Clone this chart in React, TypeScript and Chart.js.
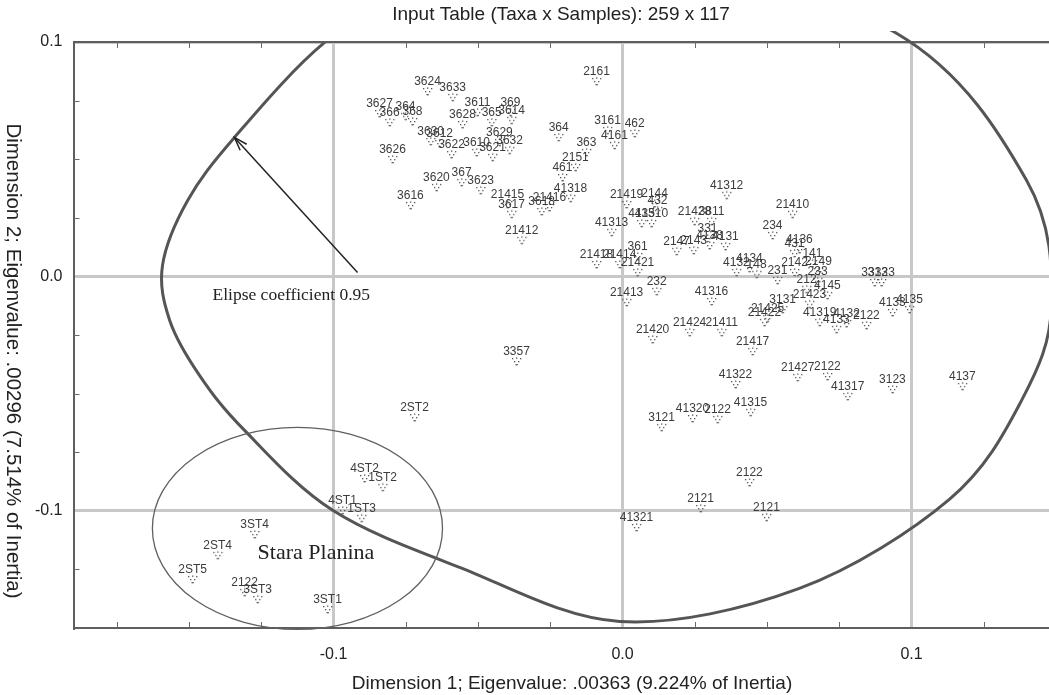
import React, { useEffect, useRef } from 'react';
import { Chart, registerables } from 'chart.js';

Chart.register(...registerables);

// ---------- data ----------
const sampleLabels: string[] = [
  '2161', '3624', '3633', '3627', '364', '366', '368', '3611', '369', '3628',
  '365', '3614', '3630', '3612', '3629', '3610', '3632', '3621', '3622', '3626',
  '364', '363', '3161', '462', '4161', '2151', '461', '3620', '367', '3623',
  '3616', '21415', '3617', '3618', '21416', '41318', '21412', '21419', '2144', '432',
  '41310', '4135', '41313', '21418', '21414', '361', '21421', '232', '21413', '41312',
  '21410', '21428', '3811', '331', '2147', '2143', '4138', '4131', '234', '4136',
  '431', '141', '2142', '2149', '233', '231', '4134', '4132', '148', '212',
  '4145', '21423', '3131', '21422', '21425', '41319', '4132', '4133', '2122', '3313',
  '3323', '4133', '4135', '3123', '4137', '41317', '21427', '2122', '41322', '41315',
  '41320', '2122', '3121', '2122', '2121', '2121', '41321', '21420', '21424', '21411',
  '21417', '41316', '3357', '2ST2', '4ST2', '1ST2', '4ST1', '1ST3', '3ST4', '2ST4',
  '2ST5', '2122', '3ST3', '3ST1',
];

const dim1: number[] = [
  -0.0090, -0.0675, -0.0588, -0.0841, -0.0751, -0.0806, -0.0727, -0.0502, -0.0388, -0.0554,
  -0.0453, -0.0384, -0.0664, -0.0633, -0.0426, -0.0505, -0.0391, -0.0450, -0.0592, -0.0796,
  -0.0221, -0.0125, -0.0052, 0.0042, -0.0028, -0.0163, -0.0208, -0.0644, -0.0557, -0.0491,
  -0.0734, -0.0398, -0.0384, -0.0280, -0.0253, -0.0180, -0.0349, 0.0014, 0.0111, 0.0121,
  0.0100, 0.0066, -0.0038, -0.0090, -0.0010, 0.0052, 0.0052, 0.0118, 0.0014, 0.0360,
  0.0588, 0.0249, 0.0308, 0.0294, 0.0187, 0.0246, 0.0301, 0.0356, 0.0519, 0.0612,
  0.0595, 0.0657, 0.0595, 0.0678, 0.0675, 0.0536, 0.0439, 0.0394, 0.0464, 0.0637,
  0.0709, 0.0647, 0.0554, 0.0491, 0.0502, 0.0682, 0.0775, 0.0740, 0.0844, 0.0872,
  0.0896, 0.0934, 0.0993, 0.0934, 0.1176, 0.0779, 0.0606, 0.0709, 0.0391, 0.0443,
  0.0242, 0.0329, 0.0135, 0.0439, 0.0270, 0.0498, 0.0048, 0.0104, 0.0232, 0.0343,
  0.0450, 0.0308, -0.0367, -0.0720, -0.0893, -0.0830, -0.0969, -0.0903, -0.1273, -0.1401,
  -0.1488, -0.1308, -0.1263, -0.1021,
];

const dim2: number[] = [
  0.0832, 0.0789, 0.0764, 0.0695, 0.0683, 0.0657, 0.0661, 0.0700, 0.0700, 0.0648,
  0.0657, 0.0666, 0.0576, 0.0567, 0.0572, 0.0529, 0.0538, 0.0508, 0.0520, 0.0499,
  0.0593, 0.0529, 0.0623, 0.0610, 0.0559, 0.0465, 0.0422, 0.0380, 0.0401, 0.0367,
  0.0303, 0.0307, 0.0265, 0.0277, 0.0294, 0.0333, 0.0154, 0.0307, 0.0311, 0.0282,
  0.0226, 0.0226, 0.0188, 0.0051, 0.0051, 0.0085, 0.0017, -0.0064, -0.0111, 0.0346,
  0.0265, 0.0235, 0.0235, 0.0162, 0.0107, 0.0111, 0.0132, 0.0128, 0.0175, 0.0115,
  0.0098, 0.0055, 0.0017, 0.0021, -0.0021, -0.0017, 0.0034, 0.0017, 0.0009, -0.0055,
  -0.0081, -0.0119, -0.0141, -0.0196, -0.0179, -0.0196, -0.0201, -0.0226, -0.0209, -0.0026,
  -0.0026, -0.0154, -0.0141, -0.0482, -0.0469, -0.0512, -0.0431, -0.0427, -0.0461, -0.0580,
  -0.0606, -0.0610, -0.0644, -0.0879, -0.0990, -0.1028, -0.1071, -0.0269, -0.0239, -0.0239,
  -0.0320, -0.0107, -0.0363, -0.0602, -0.0862, -0.0900, -0.0998, -0.1032, -0.1101, -0.1190,
  -0.1293, -0.1348, -0.1378, -0.1421,
];

const xMajorTicks: number[] = [-0.1, 0.0, 0.1];
const yMajorTicks: number[] = [-0.1, 0.0, 0.1];
const minorStep = 0.025;
const xLimits: number[] = [-0.19, 0.15];
const yLimits: number[] = [-0.15, 0.1];

const chartTitle = 'Input Table (Taxa x Samples): 259 x 117';
const xTitle = 'Dimension 1; Eigenvalue: .00363 (9.224% of Inertia)';
const yTitle = 'Dimension 2; Eigenvalue: .00296 (7.514% of Inertia)';

// annotation shapes, in data units
const confidenceOutlineX: number[] = [
  -0.0010, 0.0948, 0.1398, 0.1484, 0.1381, 0.1131, 0.0612, -0.0010, -0.0564,
  -0.1003, -0.1308, -0.1464, -0.1567, -0.1592, -0.1505, -0.1343, -0.1031, -0.0668,
];
const confidenceOutlineY: number[] = [
  0.1433, 0.1037, 0.0410, -0.0124, -0.0529, -0.0951, -0.1331, -0.1472, -0.1241,
  -0.0998, -0.0657, -0.0422, -0.0188, 0.0047, 0.0324, 0.0593, 0.0998, 0.1284,
];
const staraEllipse = { cx: -0.1125, cy: -0.1075, rx: 0.0502, ry: 0.0431 };
const arrowFrom = { x: -0.0917, y: 0.0017 };
const arrowTo = { x: -0.1343, y: 0.0593 };
const ellipseNote = { text: 'Elipse coefficient 0.95', x: -0.1419, y: -0.0100 };
const staraNote = { text: 'Stara Planina', x: -0.1263, y: -0.1207 };

const SANS = "'Liberation Sans', Arial, sans-serif";
const SERIF = "'Liberation Serif', 'Times New Roman', serif";
const FRAME = '#5e5e5e';

function makeMarker(): HTMLCanvasElement {
  const c = document.createElement('canvas');
  c.width = 13;
  c.height = 11;
  const g = c.getContext('2d')!;
  g.fillStyle = '#555555';
  const dots = [
    [2, 2], [6, 1.5], [10, 2],
    [4, 5], [8, 5],
    [5.5, 8], [6.5, 8],
  ];
  dots.forEach(([x, y]) => g.fillRect(x, y, 1.3, 1.3));
  return c;
}

const overlayPlugin = {
  id: 'overlay',
  afterDatasetsDraw(chart: any) {
    const { ctx, chartArea, scales } = chart;
    const { left, right, top, bottom } = chartArea;
    const xs = scales.x;
    const ys = scales.y;
    const px = (v: number) => xs.getPixelForValue(v);
    const py = (v: number) => ys.getPixelForValue(v);

    ctx.save();
    // frame top/right
    ctx.strokeStyle = FRAME;
    ctx.lineWidth = 2;
    ctx.beginPath();
    ctx.moveTo(left, top);
    ctx.lineTo(right, top);
    ctx.lineTo(right, bottom);
    ctx.stroke();

    // minor inward ticks
    ctx.lineWidth = 1;
    ctx.strokeStyle = '#6a6a6a';
    const isMajor = (v: number) => Math.abs(v * 10 - Math.round(v * 10)) < 1e-6;
    for (let v = Math.ceil(xLimits[0] / minorStep) * minorStep; v <= xLimits[1] + 1e-9; v += minorStep) {
      if (isMajor(v)) continue;
      const X = Math.round(px(v)) + 0.5;
      ctx.beginPath();
      ctx.moveTo(X, bottom);
      ctx.lineTo(X, bottom - 6);
      ctx.moveTo(X, top);
      ctx.lineTo(X, top + 6);
      ctx.stroke();
    }
    for (let v = Math.ceil(yLimits[0] / minorStep) * minorStep; v <= yLimits[1] + 1e-9; v += minorStep) {
      if (isMajor(v)) continue;
      const Y = Math.round(py(v)) + 0.5;
      ctx.beginPath();
      ctx.moveTo(left, Y);
      ctx.lineTo(left + 6, Y);
      ctx.moveTo(right, Y);
      ctx.lineTo(right - 6, Y);
      ctx.stroke();
    }

    // point labels
    const meta = chart.getDatasetMeta(0);
    ctx.font = `12px ${SANS}`;
    ctx.fillStyle = '#3c3c3c';
    ctx.textAlign = 'center';
    ctx.textBaseline = 'middle';
    meta.data.forEach((pt: any, i: number) => {
      ctx.fillText(sampleLabels[i], pt.x, pt.y - 10);
    });

    // large confidence outline (closed smooth curve)
    const P = confidenceOutlineX.map((v, i) => [px(v), py(confidenceOutlineY[i])]);
    ctx.save();
    ctx.beginPath();
    const zx = px(0);
    ctx.moveTo(left, top);
    ctx.lineTo(zx, top);
    ctx.lineTo(zx, top - 11);
    ctx.lineTo(chart.width, top - 11);
    ctx.lineTo(chart.width, bottom);
    ctx.lineTo(left, bottom);
    ctx.closePath();
    ctx.clip();
    ctx.beginPath();
    const n = P.length;
    ctx.moveTo(P[0][0], P[0][1]);
    for (let i = 0; i < n; i++) {
      const p0 = P[(i - 1 + n) % n];
      const p1 = P[i];
      const p2 = P[(i + 1) % n];
      const p3 = P[(i + 2) % n];
      ctx.bezierCurveTo(
        p1[0] + (p2[0] - p0[0]) / 6, p1[1] + (p2[1] - p0[1]) / 6,
        p2[0] - (p3[0] - p1[0]) / 6, p2[1] - (p3[1] - p1[1]) / 6,
        p2[0], p2[1],
      );
    }
    ctx.closePath();
    ctx.strokeStyle = '#555555';
    ctx.lineWidth = 3;
    ctx.stroke();
    ctx.restore();

    // Stara Planina ellipse
    ctx.beginPath();
    const ecx = px(staraEllipse.cx);
    const ecy = py(staraEllipse.cy);
    const erx = px(staraEllipse.cx + staraEllipse.rx) - ecx;
    const ery = ecy - py(staraEllipse.cy + staraEllipse.ry);
    ctx.ellipse(ecx, ecy, erx, ery, 0, 0, Math.PI * 2);
    ctx.strokeStyle = '#606060';
    ctx.lineWidth = 1.3;
    ctx.stroke();

    // arrow
    const ax0 = px(arrowFrom.x), ay0 = py(arrowFrom.y);
    const ax1 = px(arrowTo.x), ay1 = py(arrowTo.y);
    ctx.strokeStyle = '#222222';
    ctx.lineWidth = 1.5;
    ctx.beginPath();
    ctx.moveTo(ax0, ay0);
    ctx.lineTo(ax1, ay1);
    ctx.stroke();
    const ang = Math.atan2(ay1 - ay0, ax1 - ax0);
    const hl = 14, hw = 0.32;
    ctx.beginPath();
    ctx.moveTo(ax1 - hl * Math.cos(ang - hw), ay1 - hl * Math.sin(ang - hw));
    ctx.lineTo(ax1, ay1);
    ctx.lineTo(ax1 - hl * Math.cos(ang + hw), ay1 - hl * Math.sin(ang + hw));
    ctx.stroke();

    // annotation texts
    ctx.fillStyle = '#222222';
    ctx.textAlign = 'left';
    ctx.textBaseline = 'alphabetic';
    ctx.font = `17.5px ${SERIF}`;
    ctx.fillText(ellipseNote.text, px(ellipseNote.x), py(ellipseNote.y));
    ctx.font = `22px ${SERIF}`;
    ctx.fillText(staraNote.text, px(staraNote.x), py(staraNote.y));
    ctx.restore();
  },
  afterDraw(chart: any) {
    const { ctx } = chart;
    ctx.save();
    ctx.fillStyle = '#222222';
    ctx.textAlign = 'center';
    ctx.textBaseline = 'middle';
    ctx.font = `19px ${SANS}`;
    ctx.fillText(chartTitle, 561, 15);
    ctx.fillText(xTitle, 572, 684);
    ctx.font = `20.5px ${SANS}`;
    ctx.translate(13, 361);
    ctx.rotate(Math.PI / 2);
    ctx.fillText(yTitle, 0, 0);
    ctx.restore();
  },
};

export default function App() {
  const ref = useRef<HTMLCanvasElement | null>(null);
  useEffect(() => {
    const canvas = ref.current!;
    const marker = makeMarker();
    const chart = new Chart(canvas, {
      type: 'scatter',
      data: {
        datasets: [
          {
            data: dim1.map((v, i) => ({ x: v, y: dim2[i] })),
            pointStyle: marker as any,
            pointRadius: 6,
            pointHoverRadius: 6,
          },
        ],
      },
      options: {
        animation: false,
        responsive: false,
        events: [],
        layout: { padding: { top: 42, right: 14, left: 0, bottom: 0 } },
        plugins: {
          legend: { display: false },
          tooltip: { enabled: false },
          title: { display: false },
        },
        scales: {
          x: {
            type: 'linear',
            min: xLimits[0],
            max: xLimits[1],
            afterBuildTicks: (s: any) => {
              s.ticks = xMajorTicks.map((v) => ({ value: v }));
            },
            afterFit: (s: any) => {
              s.height = 67;
            },
            grid: { color: '#c8c8c8', lineWidth: 3, drawTicks: false },
            border: { color: FRAME, width: 2 },
            ticks: {
              padding: 17,
              color: '#222222',
              font: { family: SANS, size: 16 },
              maxRotation: 0,
              autoSkip: false,
              callback: (v: any) => Number(v).toFixed(1),
            },
          },
          y: {
            type: 'linear',
            min: yLimits[0],
            max: yLimits[1],
            afterBuildTicks: (s: any) => {
              s.ticks = yMajorTicks.map((v) => ({ value: v }));
            },
            afterFit: (s: any) => {
              s.width = 73.5;
            },
            grid: { color: '#c8c8c8', lineWidth: 3, drawTicks: false },
            border: { color: FRAME, width: 2 },
            ticks: {
              padding: 11,
              color: '#222222',
              font: { family: SANS, size: 16 },
              autoSkip: false,
              callback: (v: any) => Number(v).toFixed(1),
            },
          },
        },
      },
      plugins: [overlayPlugin],
    });
    return () => chart.destroy();
  }, []);

  return (
    <div
      style={{
        position: 'fixed',
        left: 0,
        top: 0,
        width: 1049,
        height: 695,
        overflow: 'hidden',
        background: '#ffffff',
      }}
    >
      <canvas ref={ref} width={1070} height={695} style={{ display: 'block' }} />
    </div>
  );
}
